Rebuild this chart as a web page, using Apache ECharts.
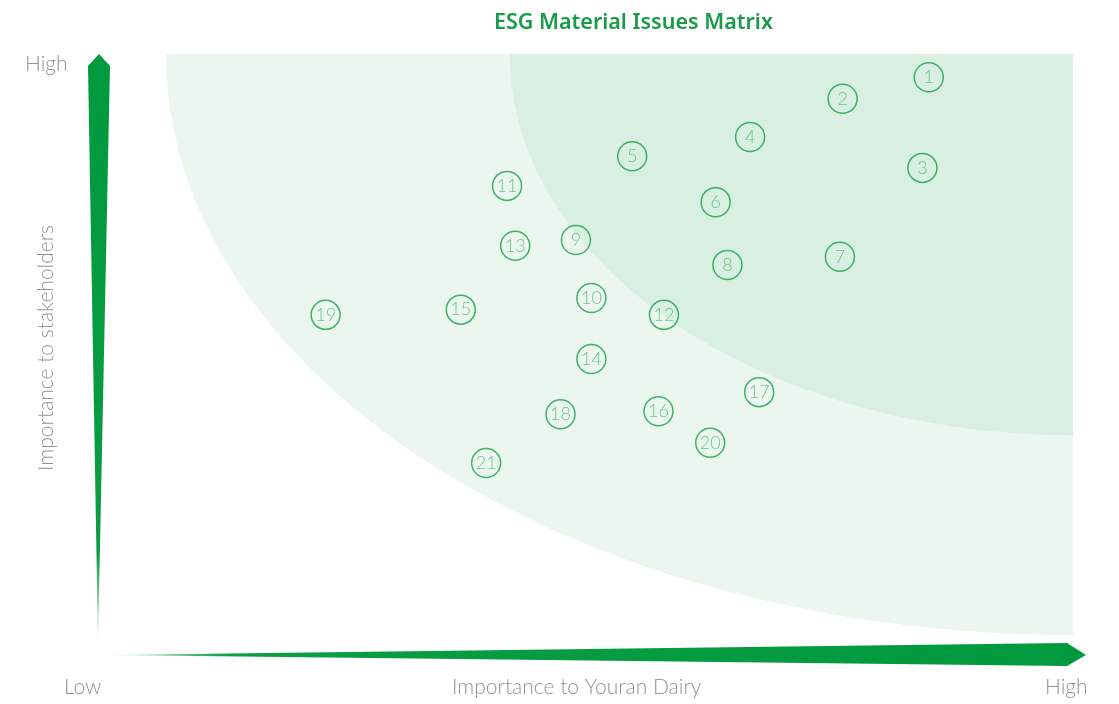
<!DOCTYPE html>
<html>
<head>
<meta charset="utf-8">
<title>ESG Material Issues Matrix</title>
<script src="https://cdn.jsdelivr.net/npm/echarts@6/dist/echarts.min.js"></script>
<style>
  html, body { margin: 0; padding: 0; background: #fff; }
  #chart { width: 1119px; height: 704px; }
</style>
</head>
<body>
<div id="chart"></div>
<script>
// issue numbers and their position (importance to Youran Dairy, importance to stakeholders), 0-100
const issueIds = [1, 2, 3, 4, 5, 6, 7, 8, 9, 10, 11, 12, 13, 14, 15, 16, 17, 18, 19, 20, 21];
const companyScore = [84.1, 74.6, 83.4, 64.4, 51.4, 60.6, 74.3, 61.9, 45.2, 46.9, 37.6, 54.9, 38.5, 46.9, 32.5, 54.3, 65.4, 43.5, 17.6, 60.0, 35.3];
const stakeholderScore = [96.0, 92.3, 80.4, 85.7, 82.4, 74.5, 65.1, 63.7, 68.0, 58.0, 77.3, 55.1, 67.0, 47.5, 56.0, 38.5, 41.8, 38.0, 55.1, 33.1, 29.6];

// shaded zones: quarter-ellipses anchored at the top-right corner (radii in axis units)
const zoneRadiusX = [100, 62.1];
const zoneRadiusY = [100, 65.6];
const zoneColors = ['#eaf6ee', '#d9efe2'];

const chart = echarts.init(document.getElementById('chart'));

const points = issueIds.map((id, i) => [companyScore[i], stakeholderScore[i], id]);
const zones = zoneRadiusX.map((rx, i) => [rx, zoneRadiusY[i], i]);

const labelFont = 'Lato, "Noto Sans", sans-serif';
const axisText = { fill: '#939393', fontSize: 21, fontWeight: 300, fontFamily: labelFont };

chart.setOption({
  animation: false,
  title: {
    text: 'ESG Material Issues Matrix',
    left: 489,
    top: 7,
    textStyle: { color: '#1a9b49', fontSize: 21.5, fontWeight: 600, fontFamily: '"Noto Sans", sans-serif' }
  },
  grid: { left: 166, right: 46, top: 54, bottom: 69 },
  xAxis: { type: 'value', min: 0, max: 100, show: false },
  yAxis: { type: 'value', min: 0, max: 100, show: false },
  series: [
    {
      type: 'custom',
      silent: true,
      data: zones,
      renderItem: function (params, api) {
        const rx = api.value(0);
        const ry = api.value(1);
        const pts = [api.coord([100, 100])];
        for (let k = 0; k <= 80; k++) {
          const t = k / 80 * Math.PI / 2;
          pts.push(api.coord([100 - rx * Math.cos(t), 100 - ry * Math.sin(t)]));
        }
        return {
          type: 'polygon',
          shape: { points: pts },
          style: { fill: zoneColors[api.value(2)] }
        };
      },
      z: 1
    },
    {
      type: 'scatter',
      data: points,
      symbol: 'circle',
      symbolSize: 29,
      itemStyle: { color: 'rgba(0,0,0,0)', borderColor: '#17a148', borderWidth: 1.5 },
      label: {
        show: true,
        position: 'inside',
        formatter: p => String(p.value[2]),
        color: '#4cb96d',
        fontSize: 18,
        fontWeight: 300,
        fontFamily: labelFont
      },
      z: 3
    }
  ],
  graphic: [
    {
      type: 'polygon',
      shape: { points: [[98, 642], [88, 66], [99, 54], [110, 66]] },
      style: {
        fill: new echarts.graphic.LinearGradient(0, 0, 0, 1, [
          { offset: 0, color: '#009a3e' },
          { offset: 0.85, color: '#0b9d44' },
          { offset: 1, color: 'rgba(40,170,90,0.2)' }
        ])
      }
    },
    {
      type: 'polygon',
      shape: { points: [[110, 655], [1067, 643], [1086, 655], [1067, 666]] },
      style: {
        fill: new echarts.graphic.LinearGradient(0, 0, 1, 0, [
          { offset: 0, color: 'rgba(40,170,90,0.2)' },
          { offset: 0.12, color: '#0b9d44' },
          { offset: 1, color: '#009a3e' }
        ])
      }
    },
    { type: 'text', left: 25, top: 54, style: Object.assign({ text: 'High' }, axisText) },
    { type: 'text', left: 64, top: 677, style: Object.assign({ text: 'Low' }, axisText) },
    { type: 'text', left: 1045, top: 677, style: Object.assign({ text: 'High' }, axisText) },
    { type: 'text', left: 452, top: 677, style: Object.assign({ text: 'Importance to Youran Dairy' }, axisText) },
    {
      type: 'text',
      x: 46, y: 348,
      rotation: Math.PI / 2,
      style: Object.assign({ text: 'Importance to stakeholders', align: 'center', verticalAlign: 'middle' }, axisText)
    }
  ]
});
</script>
</body>
</html>
